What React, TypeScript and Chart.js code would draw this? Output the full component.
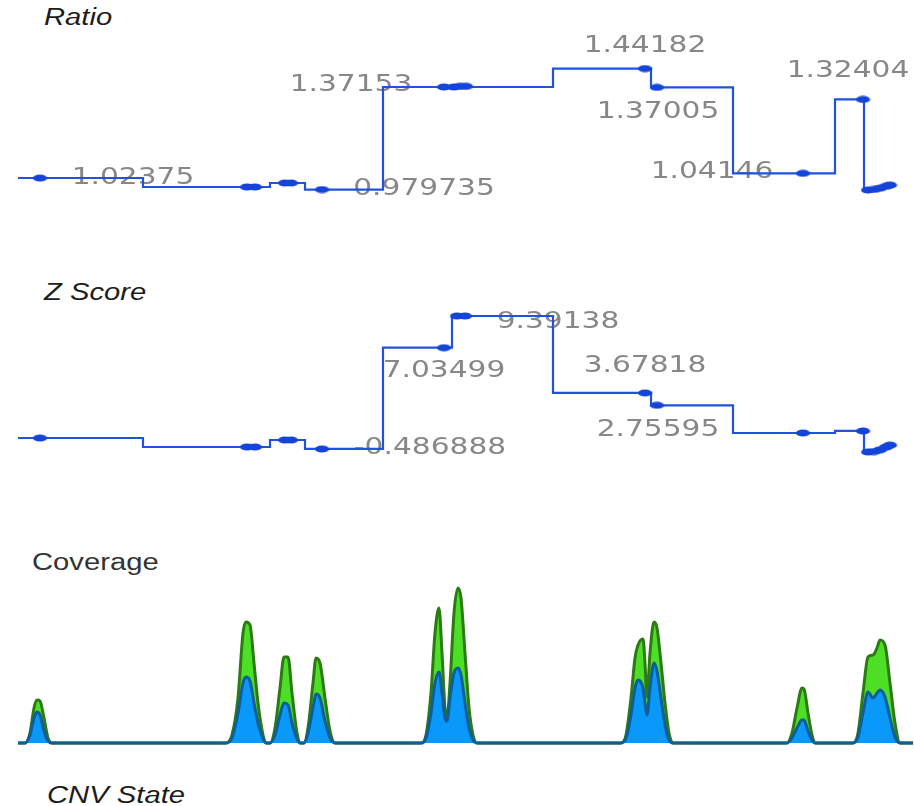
import React, { useEffect, useRef } from "react";
import { Chart, registerables } from "chart.js";

Chart.register(...registerables);

// ---------- DATA (x = genomic position bins, 0..895) ----------
const X_MAX = 895;

// Ratio: step segments (start position, value); last point closes the line
const ratioStepX = [0, 125, 252, 287, 365, 535, 633, 715, 817, 846, 858, 866, 872, 877];
const ratioStepV = [1.02375, 0.9894, 1.0047, 0.979735, 1.37153, 1.44182, 1.37005, 1.04146, 1.32404, 0.978, 0.982, 0.99, 0.997, 0.997];
// Ratio: bin points
const ratioDotX = [22, 229, 237, 267, 273, 304, 426, 436, 442, 448, 627, 639, 785, 845, 850, 856, 862, 868, 872];
const ratioDotV = [1.02375, 0.9894, 0.9894, 1.0047, 1.0047, 0.979735, 1.37153, 1.37153, 1.374, 1.374, 1.44182, 1.37005, 1.04146, 1.32404, 0.978, 0.98, 0.985, 0.992, 0.997];
// Ratio: segment labels
const ratioLabelV = [1.02375, 1.37153, 0.979735, 1.44182, 1.37005, 1.04146, 1.32404];
const ratioLabelX = [115, 333, 406, 627, 640, 694, 830];

// Z score
const zStepX = [0, 125, 252, 287, 365, 434, 535, 633, 715, 817, 846, 856, 864, 870, 877];
const zStepV = [0.327, -0.34, 0.18, -0.486888, 7.03499, 9.39138, 3.67818, 2.75595, 0.7, 0.85, -0.71, -0.65, -0.45, -0.2, -0.15];
const zDotX = [22, 229, 237, 267, 273, 304, 426, 439, 447, 627, 639, 785, 845, 850, 856, 862, 868, 872];
const zDotV = [0.327, -0.34, -0.34, 0.18, 0.18, -0.486888, 7.03499, 9.39138, 9.39138, 3.67818, 2.75595, 0.7, 0.85, -0.71, -0.68, -0.55, -0.35, -0.2];
const zLabelV = [7.03499, 9.39138, -0.486888, 3.67818, 2.75595];
const zLabelX = [426, 540, 412, 627, 640];

// Coverage
const covX = [
  0, 7, 12, 16, 19, 22, 26, 30, 34,
  208, 214, 220, 225, 228, 232, 236, 240, 245, 248,
  252, 257, 262, 266, 270, 274, 279, 282,
  286, 290, 295, 298, 302, 307, 312, 317,
  403, 408, 413, 417, 421, 424, 427, 429, 432, 436, 440, 443, 447, 451, 455, 459,
  603, 608, 613, 617, 620, 625, 627, 629, 632, 636, 639, 643, 647, 651, 655,
  769, 774, 779, 784, 786, 790, 794, 797,
  835, 840, 845, 850, 855, 859, 862, 867, 872, 877, 882, 895,
];
const covTotal = [
  0, 0, 10, 35, 43, 42, 25, 5, 0,
  0, 8, 45, 110, 121, 118, 80, 40, 8, 0,
  0, 15, 55, 86, 86, 50, 10, 0,
  0, 15, 60, 85, 80, 45, 12, 0,
  0, 8, 50, 110, 135, 90, 35, 25, 60, 130, 155, 145, 90, 35, 8, 0,
  0, 8, 45, 85, 98, 104, 80, 46, 90, 121, 115, 80, 40, 10, 0,
  0, 10, 35, 55, 54, 30, 8, 0,
  0, 10, 50, 86, 88, 95, 103, 98, 60, 20, 0, 0,
];
const covSample = [
  0, 0, 8, 25, 31, 28, 12, 2, 0,
  0, 5, 30, 60, 66, 62, 40, 20, 4, 0,
  0, 8, 28, 40, 38, 20, 4, 0,
  0, 10, 35, 49, 45, 22, 5, 0,
  0, 5, 30, 60, 71, 50, 25, 22, 45, 70, 75, 68, 40, 15, 3, 0,
  0, 5, 28, 55, 63, 55, 40, 28, 55, 80, 72, 45, 18, 3, 0,
  0, 5, 15, 23, 23, 12, 3, 0,
  0, 6, 30, 51, 45, 50, 53, 46, 25, 6, 0, 0,
];

// ---------- STYLE ----------
const LINE_BLUE = "#1f52e0";
const DOT_BLUE = "#1444d8";
const TEXT_SCALE = 1.29;

function makeDot(): HTMLCanvasElement {
  const c = document.createElement("canvas");
  c.width = 15;
  c.height = 8;
  const g = c.getContext("2d")!;
  g.fillStyle = DOT_BLUE;
  g.beginPath();
  g.ellipse(7.5, 4, 7, 3.6, 0, 0, Math.PI * 2);
  g.fill();
  return c;
}

function labelPlugin(xs: number[], vs: number[], dys: number[]) {
  return {
    id: "segLabels",
    beforeDatasetsDraw(chart: any) {
      const ctx = chart.ctx;
      const sx = chart.scales.x;
      const sy = chart.scales.y;
      ctx.save();
      ctx.font = '23px "DejaVu Sans"';
      ctx.fillStyle = "#878787";
      ctx.textAlign = "center";
      ctx.textBaseline = "middle";
      xs.forEach((x, i) => {
        const px = sx.getPixelForValue(x);
        const py = sy.getPixelForValue(vs[i]) + dys[i];
        ctx.save();
        ctx.translate(px, py);
        ctx.scale(TEXT_SCALE, 1);
        ctx.fillText(String(vs[i]), 0, 0);
        ctx.restore();
      });
      ctx.restore();
    },
  };
}

function stepChart(
  canvas: HTMLCanvasElement,
  sx: number[], sv: number[], dx: number[], dv: number[],
  lx: number[], lv: number[], ldy: number[],
  min: number, max: number, dot: HTMLCanvasElement
) {
  return new Chart(canvas, {
    type: "line",
    data: {
      datasets: [
        {
          data: dx.map((x, i) => ({ x, y: dv[i] })),
          showLine: false,
          pointStyle: dot as any,
          pointRadius: 4,
          clip: false as any,
        },
        {
          data: sx.map((x, i) => ({ x, y: sv[i] })),
          stepped: true,
          borderColor: LINE_BLUE,
          borderWidth: 2.2,
          pointRadius: 0,
          fill: false,
          clip: false as any,
        },
      ],
    },
    options: {
      animation: false,
      responsive: false,
      events: [],
      layout: { autoPadding: false, padding: { left: 18, right: 1, top: 0, bottom: 0 } },
      scales: {
        x: { type: "linear", min: 0, max: X_MAX, display: false },
        y: { min, max, display: false },
      },
      plugins: { legend: { display: false }, tooltip: { enabled: false } },
    },
    plugins: [labelPlugin(lx, lv, ldy)],
  });
}

const titleBase: React.CSSProperties = {
  position: "absolute",
  fontFamily: '"Liberation Sans", Arial, sans-serif',
  fontSize: "23px",
  lineHeight: "26px",
  whiteSpace: "nowrap",
  transform: `scaleX(${1.27})`,
  transformOrigin: "left center",
  color: "#1c1c1c",
};

export default function App() {
  const ratioRef = useRef<HTMLCanvasElement>(null);
  const zRef = useRef<HTMLCanvasElement>(null);
  const covRef = useRef<HTMLCanvasElement>(null);

  useEffect(() => {
    const dot = makeDot();
    const c1 = stepChart(
      ratioRef.current!, ratioStepX, ratioStepV, ratioDotX, ratioDotV,
      ratioLabelX, ratioLabelV, [0, -2, 0, -23, 25, -1, -28],
      0.8633, 1.5893, dot
    );
    const c2 = stepChart(
      zRef.current!, zStepX, zStepV, zDotX, zDotV,
      zLabelX, zLabelV, [23, 6, -1, -27, 25],
      -2.05, 10.58, dot
    );
    const c3 = new Chart(covRef.current!, {
      type: "line",
      data: {
        datasets: [
          {
            data: covX.map((x, i) => ({ x, y: covSample[i] })),
            borderColor: "#0c5d98",
            backgroundColor: "#0899fb",
            borderWidth: 3,
            pointRadius: 0,
            fill: "origin",
            cubicInterpolationMode: "monotone",
            clip: false as any,
          },
          {
            data: covX.map((x, i) => ({ x, y: covTotal[i] })),
            borderColor: "#2c7a14",
            backgroundColor: "#4ddf25",
            borderWidth: 3,
            pointRadius: 0,
            fill: "origin",
            cubicInterpolationMode: "monotone",
            clip: false as any,
          },
        ],
      },
      options: {
        animation: false,
        responsive: false,
        events: [],
        layout: { autoPadding: false, padding: { left: 18, right: 1, top: 0, bottom: 2 } },
        scales: {
          x: { type: "linear", min: 0, max: X_MAX, display: false },
          y: { min: 0, max: 168, display: false },
        },
        plugins: { legend: { display: false }, tooltip: { enabled: false } },
      },
    });
    return () => {
      c1.destroy();
      c2.destroy();
      c3.destroy();
    };
  }, []);

  return (
    <div style={{ position: "absolute", left: 0, top: 0, width: 914, height: 806, background: "#fff", overflow: "hidden" }}>
      <div style={{ ...titleBase, left: 44, top: 4, fontStyle: "italic" }}>Ratio</div>
      <div style={{ ...titleBase, left: 44, top: 279, fontStyle: "italic" }}>Z Score</div>
      <div style={{ ...titleBase, left: 32, top: 549, color: "#333" }}>Coverage</div>
      <div style={{ ...titleBase, left: 47, top: 782, fontStyle: "italic" }}>CNV State</div>
      <canvas ref={ratioRef} width={914} height={190} style={{ position: "absolute", left: 0, top: 30 }} />
      <canvas ref={zRef} width={914} height={170} style={{ position: "absolute", left: 0, top: 300 }} />
      <canvas ref={covRef} width={914} height={170} style={{ position: "absolute", left: 0, top: 575 }} />
    </div>
  );
}
